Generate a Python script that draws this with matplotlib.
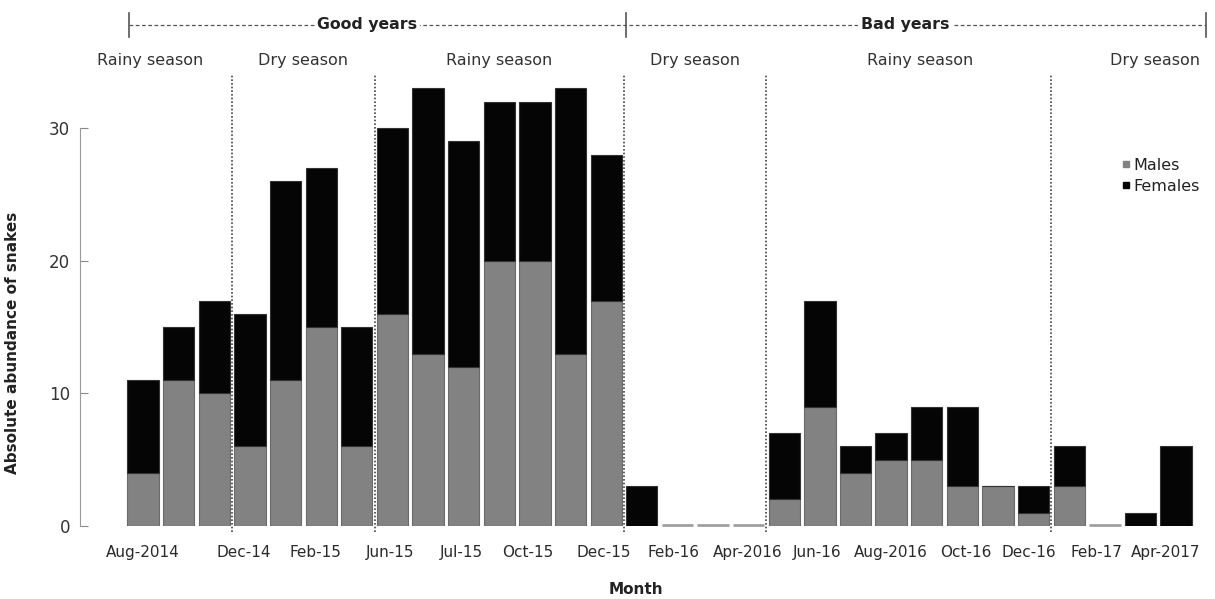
import matplotlib
matplotlib.use("Agg")
import matplotlib.pyplot as plt
import matplotlib.transforms as mtransforms
from matplotlib.lines import Line2D
import numpy as np

plt.rcParams['font.family'] = ['DejaVu Sans']

# Monthly counts of captured snakes, by sex
males = [4, 11, 10, 6, 11, 15, 6, 16, 13, 12, 20, 20, 13, 17,
         0, 0, 0, 0, 2, 9, 4, 5, 5, 3, 3, 1, 3, 0, 0, 0]
females = [7, 4, 7, 10, 15, 12, 9, 14, 20, 17, 12, 12, 20, 11,
           3, 0, 0, 0, 5, 8, 2, 2, 4, 6, 0, 2, 3, 0, 1, 6]

month_labels = ["Aug-2014", "Dec-14", "Feb-15", "Jun-15", "Jul-15", "Oct-15",
                "Dec-15", "Feb-16", "Apr-2016", "Jun-16", "Aug-2016",
                "Oct-16", "Dec-16", "Feb-17", "Apr-2017"]

season_names = ["Rainy season", "Dry season", "Rainy season",
                "Dry season", "Rainy season", "Dry season"]
season_sizes = [3, 4, 7, 4, 8, 4]
period_names = ["Good years", "Bad years"]

# ---- layout ----
month_label_pos = [0, 2.82, 4.85, 6.93, 8.93, 10.8, 12.93, 14.9, 16.98,
                   18.93, 20.99, 23.1, 24.87, 26.77, 28.7]
season_label_pos = [0.2, 4.5, 10.0, 15.5, 21.8, 28.4]
period_edges = [-0.4, 13.57, 29.85]
period_text_pos = [6.3, 21.4]

W, H = 1215, 599
fig = plt.figure(figsize=(W / 100, H / 100), dpi=100)
ax = fig.add_axes([80 / W, 73 / H, 1135 / W, 451 / H])

x = np.arange(len(males))
gray = "#828282"
ax.bar(x, males, width=0.88, color=gray, edgecolor="#6a6a6a", linewidth=0.8, zorder=2)
ax.bar(x, females, width=0.88, bottom=males, color="#050505",
       edgecolor="#333333", linewidth=0.8, zorder=2)
# empty months appear as a thin grey line on the baseline
totals = np.array(males) + np.array(females)
for xi, t in zip(x, totals):
    if t == 0:
        ax.plot([xi - 0.44, xi + 0.44], [0.08, 0.08], color="#a0a0a0",
                lw=2, solid_capstyle="butt", zorder=2, clip_on=False)

ax.set_xlim(-1.77, 30.09)
ax.set_ylim(0, 34)

# season dividers
dividers = np.cumsum(season_sizes)[:-1] - 0.5
for d in dividers:
    ax.plot([d, d], [-0.45, 34], color="#444444", lw=1.2, ls=(0, (1, 1.2)),
            zorder=3, clip_on=False)

# axes styling
for s in ["top", "right", "bottom"]:
    ax.spines[s].set_visible(False)
ax.spines["left"].set_color("#9a9a9a")
ax.spines["left"].set_bounds(0, 30)
ax.set_yticks([0, 10, 20, 30])
ax.tick_params(axis="y", direction="in", length=6, color="#8a8a8a",
               labelsize=12, labelcolor="#333333", pad=7)
ax.set_xticks(month_label_pos)
ax.set_xticklabels(month_labels)
ax.tick_params(axis="x", length=0, labelsize=11, labelcolor="#2a2a2a", pad=14)

ax.set_ylabel("Absolute abundance of snakes", fontsize=11, fontweight="bold",
              color="#222222")
ax.yaxis.set_label_coords(-0.053, 0.405)
fig.text(636 / W, 1 - 590 / H, "Month", ha="center", va="center",
         fontsize=11, fontweight="bold", color="#222222")

# season labels and period brackets above the plot
trans = mtransforms.blended_transform_factory(ax.transData, ax.transAxes)
season_y = (526 - 60) / 451
for name, pos in zip(season_names, season_label_pos):
    ax.text(pos, season_y, name, transform=trans, ha="center", va="center",
            fontsize=11.5, color="#333333")

period_y = (526 - 25) / 451
tick_h = 12 / 451
ax.plot([period_edges[0], period_edges[-1]], [period_y, period_y], transform=trans,
        color="#555555", lw=0.9, ls=(0, (3, 2)), clip_on=False)
for xe in period_edges:
    ax.plot([xe, xe], [period_y - tick_h, period_y + tick_h], transform=trans,
            color="#555555", lw=1.2, clip_on=False)
for name, tx in zip(period_names, period_text_pos):
    ax.text(tx, period_y, name, transform=trans, ha="center", va="center",
            fontsize=11.3, fontweight="bold", color="#222222",
            bbox=dict(facecolor="white", edgecolor="none", pad=2))

handles = [Line2D([], [], ls="none", marker="s", markersize=4, color=gray),
           Line2D([], [], ls="none", marker="s", markersize=4, color="#050505")]
fig.legend(handles, ["Males", "Females"], loc="upper left",
           bbox_to_anchor=(1122 / W, 1 - 158 / H), frameon=False,
           fontsize=11.5, handlelength=0.5, handletextpad=0.2,
           labelspacing=0.35, borderaxespad=0, borderpad=0,
           labelcolor="#222222")

fig.savefig("out.png", dpi=100, facecolor="white")
